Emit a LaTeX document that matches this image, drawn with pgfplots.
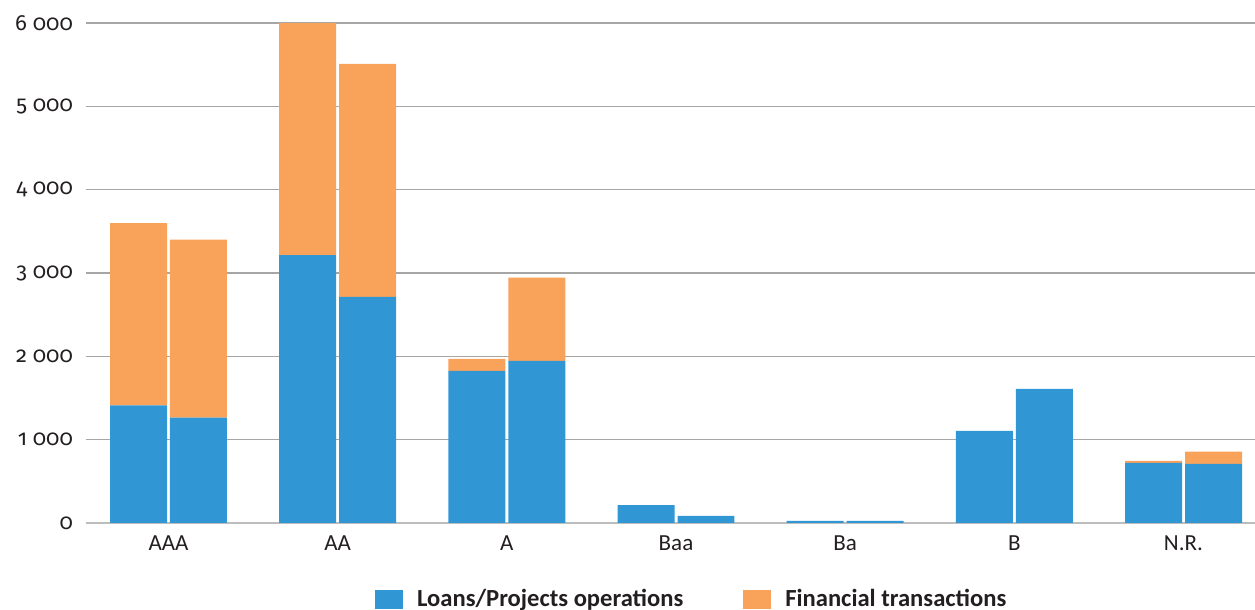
\documentclass[border=0pt]{standalone}
\usepackage{pgfplots}
\pgfplotsset{compat=1.18}
\usepackage{fontspec}
\setmainfont{Carlito}
\newfontfamily\numfont{Fira Sans}[Numbers=OldStyle]
\definecolor{loans}{HTML}{3197D4}
\definecolor{fin}{HTML}{F8A25A}
\definecolor{gridc}{HTML}{A6A6A6}
\definecolor{basec}{HTML}{BDBDBD}
\definecolor{txt}{HTML}{231F20}

% Two bars per rating class (left and right year), stacked by operation type
\pgfplotstableread{
x        loans  fin
-0.1773  1410   2190
0.1773   1265   2135
0.8227   3215   2785
1.1773   2715   2795
1.8227   1825   145
2.1773   1945   1000
2.8227   215    0
3.1773   85     0
3.8227   25     0
4.1773   25     0
4.8227   1105   0
5.1773   1610   0
5.8227   720    25
6.1773   710    145
}\ratings

\begin{document}
\begin{tikzpicture}
\begin{axis}[
  at={(0,0)}, anchor=south west,
  scale only axis, width=584.5pt, height=250pt,
  xmin=-0.4877, xmax=6.4226, ymin=0, ymax=6000,
  ybar stacked, bar width=0.3369,
  axis line style={draw=none},
  major tick length=0pt,
  ytick={0,1000,...,6000},
  scaled y ticks=false,
  ymajorgrids,
  grid style={gridc, line width=0.65pt},
  extra y ticks={0}, extra y tick labels={},
  extra y tick style={grid style={basec, line width=1.1pt}},
  xtick={0,...,6},
  xticklabels={AAA,AA,A,Baa,Ba,B,N.R.},
  /pgf/number format/assume math mode=true,
  /pgf/number format/1000 sep={\ },
  yticklabel style={font=\numfont\fontsize{11}{13}\selectfont, text=txt, xshift=-3pt},
  xticklabel style={font=\fontsize{11.5}{13}\selectfont, text=txt, yshift=-3pt},
  legend style={at={(0.519,-0.116)}, anchor=north, draw=none, fill=none,
    legend columns=2, font=\bfseries\fontsize{12.3}{14}\selectfont, text=txt,
    /tikz/every odd column/.append style={column sep=5pt},
    /tikz/every even column/.append style={column sep=28pt}},
  legend image code/.code={\fill[#1] (0pt,-4.75pt) rectangle (14pt,4.75pt);},
]
\addplot[fill=loans, draw=none] table[x=x, y=loans] {\ratings};
\addplot[fill=fin, draw=none] table[x=x, y=fin] {\ratings};
\legend{Loans/Projects operations, Financial transactions}
\end{axis}
\pgfresetboundingbox
\path[use as bounding box] (-43pt,-43.5pt) rectangle (584.5pt,261.5pt);
\end{tikzpicture}
\end{document}
